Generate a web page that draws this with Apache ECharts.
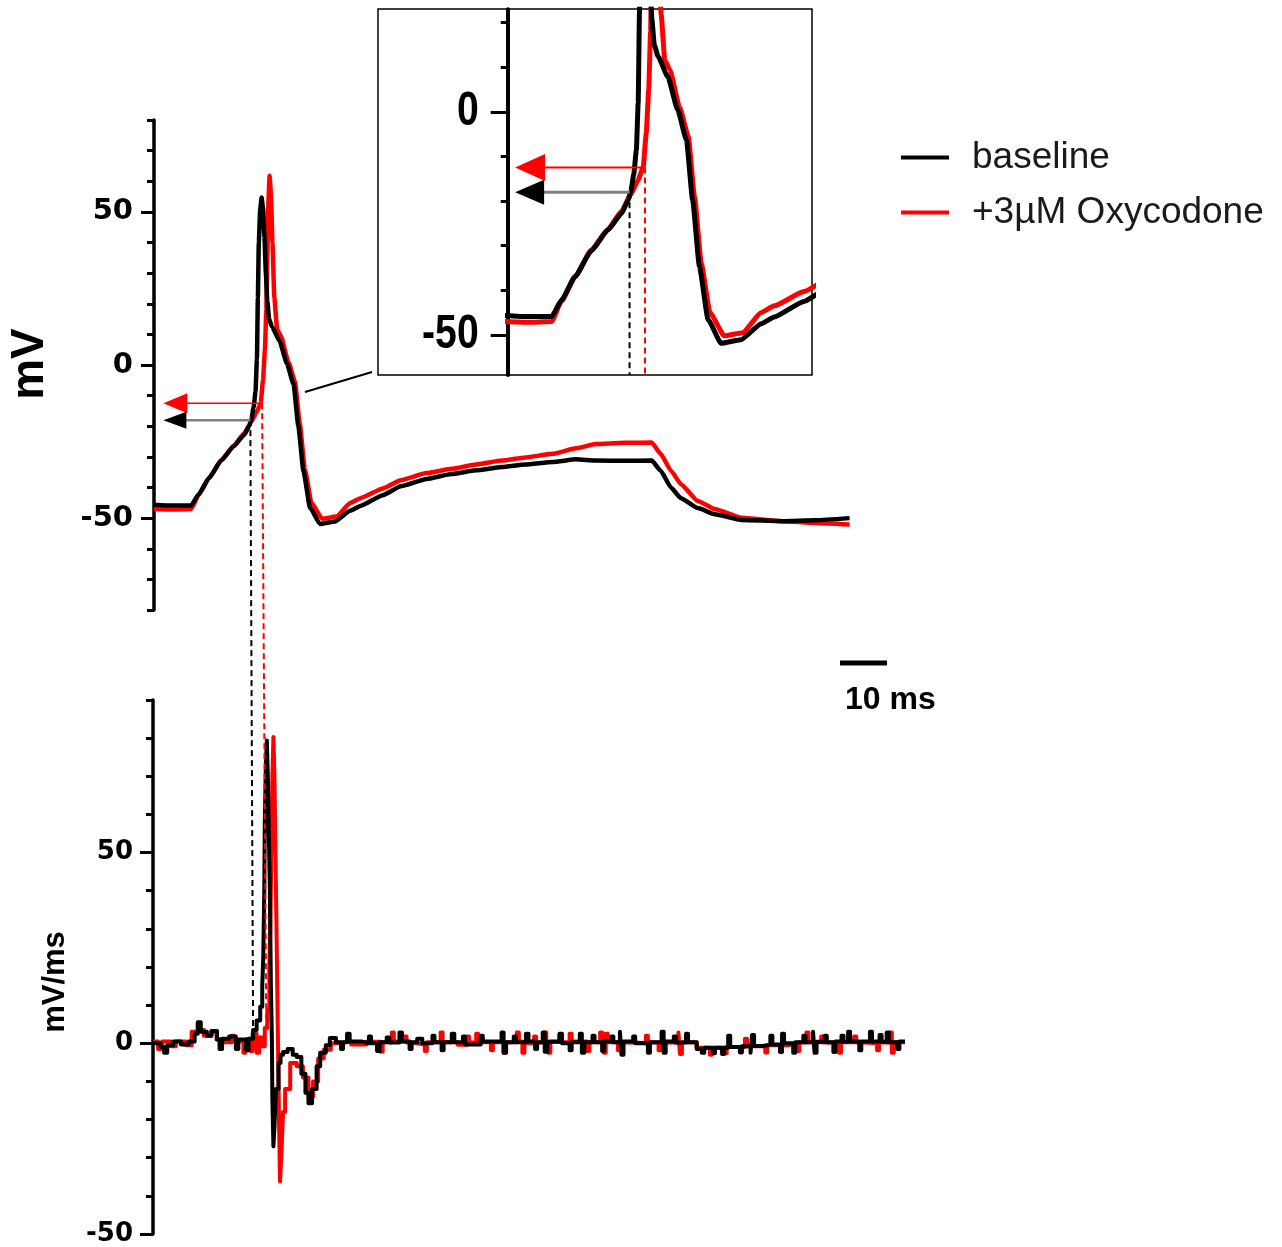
<!DOCTYPE html>
<html>
<head>
<meta charset="utf-8">
<script src="https://cdn.jsdelivr.net/npm/echarts@6/dist/echarts.min.js"></script>
<style>
  html, body { margin: 0; padding: 0; background: #fff; }
  #main { width: 1282px; height: 1247px; }
</style>
</head>
<body>
<div id="main"></div>
<script>
// membrane potential, [ms, mV]
var vBaseline = [
  [0, -45.6], [4, -45.9], [7.9, -45.9], [9.5, -42.2], [11.7, -36.9], [14.3, -31.2], [17, -26.5],
  [19.2, -22.8], [20.3, -19.8], [20.7, -17.9], [21.2, -13.8], [21.6, -8.6], [21.9, 2], [22.1, 22],
  [22.3, 40], [22.6, 51], [22.9, 54.7], [23.2, 51], [23.5, 42], [23.8, 30], [24.1, 21], [24.5, 15],
  [25.1, 12.5], [26.7, 7.8], [28.3, 0.4], [29.7, -6.3], [30.7, -19.8], [31.8, -34.7], [33.2, -46.6],
  [35.3, -51.9], [38.5, -51.1], [41.8, -47.5], [43.9, -46], [48.7, -42.5], [52.5, -39.6], [58, -37.2],
  [63.3, -35.6], [68.5, -34.4], [74, -33.3], [79, -32.5], [84.8, -31.7], [89.8, -30.8], [94, -31.2],
  [100, -31.3], [105.9, -31.2], [107.8, -34.5], [110, -40], [112.1, -43.5], [115.7, -46.7],
  [119.3, -48.7], [125, -50.6], [133.6, -51], [140.8, -50.7], [148, -50]
]
var vOxy = [
  [0, -47], [4, -47.2], [7.9, -47], [9.5, -42.5], [11.7, -37], [14.3, -31], [17, -26.3],
  [19.2, -22.3], [20.7, -18.5], [21.8, -15.5], [22.7, -12.5], [23.2, -4.8], [23.6, 5], [23.9, 18],
  [24.1, 35], [24.3, 52], [24.6, 61.8], [24.9, 55], [25.2, 40], [25.6, 22], [26.2, 11.6], [27, 9.5],
  [28.6, 1], [30, -5.5], [31, -19], [32.1, -34], [33.5, -45], [35.8, -50.2], [38.8, -49.5],
  [41.8, -45], [43.9, -43.5], [48.7, -40.3], [52.5, -37.6], [58, -35.3], [63.3, -33.9], [68.5, -32.5],
  [74, -31.2], [79, -30.2], [84.8, -29], [89.8, -27.2], [94, -25.8], [100, -25.4], [105.9, -25.3],
  [107.8, -29], [110, -34.5], [112.1, -38.9], [115.7, -44.4], [119.3, -47], [125, -49.9],
  [133.6, -51], [140.8, -51.6], [148, -52.1]
]

// dV/dt, [ms, mV/ms], each value holds until the next point
var dBaseline = [
  [0, 0], [1.5, -1], [2.2, -2.5], [2.8, -0.5], [4, 0.5], [5.5, -0.3], [7, 0.5], [8.2, 2.5], [8.8, 5.5],
  [9.4, 3], [10.6, 2], [11.5, 3.2], [12.6, 1], [13.1, -1.5], [13.6, 1.2], [15, 1.8], [16.3, -1.5],
  [16.8, 1], [18.3, -1.8], [18.8, 1.2], [19.7, 3.5], [20.4, 6], [21.1, 9.6], [21.5, 15], [21.7, 22.7],
  [21.9, 40], [22, 57.6], [22.2, 72], [22.4, 79.4], [22.6, 70], [22.8, 55], [23, 40], [23.2, 15],
  [23.4, 0.9], [23.5, -15], [23.7, -27], [23.9, -22], [24.2, -12], [24.7, -5.2], [25.1, -3],
  [25.6, -2.3], [26.5, -1.5], [27.5, -3], [28.3, -3.6], [29.2, -8], [30, -13], [30.6, -15.7],
  [31.3, -12], [32.2, -6], [32.9, -2.5], [34, -0.5], [34.8, 1.4], [36, 0.3], [37, -1.5], [37.4, 0.3],
  [38.2, 2.5], [38.7, 0.5], [41, 0], [42.5, 1.8], [42.9, 0], [44.1, -2], [44.6, 0.3], [46, 1.5],
  [46.5, 0.2], [48.5, 2.8], [49, 0.5], [50.5, -1.5], [50.9, 0.3], [52, 1.2], [53, 0], [55, 2], [55.4, 0.3],
  [56.8, -1.8], [57.2, 0.3], [58.8, 2.5], [59.3, 0.3], [61, 1.8], [61.4, -0.3], [63, -0.3], [64.5, 2],
  [64.9, 0.5], [66, 0.5], [68.6, 2.8], [69, -2.5], [69.5, 0.3], [71, 1.8], [71.4, 0.3], [73.4, 2.5],
  [73.9, 0.5], [75.2, -1.5], [75.6, 0.3], [76.7, 2.8], [77.1, -2.2], [77.6, 0.4], [80, 2.5], [80.5, 0],
  [82, -1.8], [82.4, 0.3], [84, 2.5], [84.4, -2.5], [84.9, 0.3], [86.5, 2], [86.9, 0.3], [88.4, -2],
  [88.8, 0.5], [90.2, 1.8], [90.6, 0.3], [91.9, 3], [92.2, -3], [92.6, 0.5], [94.5, 1.8], [94.9, 0],
  [97.4, -2.5], [97.8, 0.3], [100.1, 3], [100.5, -2.5], [100.9, 0.5], [102.5, 1.8], [102.9, 0.2],
  [104.9, 2.5], [105.3, 0.3], [107, -1.5], [108, -2.5], [108.5, -1.2], [110.2, -2.6], [110.6, -1.2],
  [112, -2.8], [112.4, -1.2], [113.2, 2], [113.6, -1], [115.5, -2.4], [115.9, -0.8], [117.6, -2.5],
  [117.9, 2.2], [118.3, -0.7], [120, -0.4], [121.5, 2], [121.9, -0.3], [123.4, -2.3], [123.8, 2.5],
  [124.2, 0], [126, -2.5], [126.4, 0.3], [128, 2], [128.4, 0.3], [129.9, 3], [130.2, -2.5], [130.6, 0.4],
  [132.2, 2], [132.6, 0.3], [133.9, -2.3], [134.3, 0.5], [135.5, 2], [135.9, 0.4], [136.8, 3],
  [137.2, 0.5], [139, -1.8], [139.4, 0.5], [141.1, 3], [141.5, 0.5], [143, 2.2], [143.4, 0.4],
  [144.4, 2.8], [144.8, 0.3], [146.5, -1.5], [146.9, 0.5], [148, 0.5]
]
var dOxy = [
  [0, 0.5], [1, -1.5], [1.8, 0.5], [3.5, -0.8], [4.5, 0.5], [6.5, -0.5], [7.6, 3], [8.5, 3.5], [10, 2],
  [11.5, 3], [12.5, 1], [14, 0.3], [15.5, 2], [16, 0.5], [17.8, -2.5], [18.2, 1], [19.2, -2], [19.6, 2.5],
  [20.4, -2.5], [20.9, 1.5], [21.5, -0.8], [22, 4], [22.5, 8.7], [22.9, 20], [23.1, 31], [23.3, 50],
  [23.5, 70], [23.7, 80.3], [23.9, 70], [24.1, 50], [24.3, 31], [24.5, 10], [24.6, 0], [24.8, -20],
  [25, -36.2], [25.3, -28], [25.6, -18], [26, -12], [27, -5.2], [28.3, -6], [29.5, -9], [30.6, -14],
  [31.5, -10], [32.5, -4], [33.6, -1.7], [35, 0], [36, 0.5], [39, -0.3], [42, 0.4], [44.8, -2.2],
  [45.2, 0.3], [47, 2.8], [47.4, 0.5], [49.5, 1.8], [49.9, 0.2], [51, -0.3], [53.5, -2], [53.9, 0.3],
  [56.6, 2.8], [57, 0.3], [60, -0.4], [61.8, 1.8], [62.2, 0.2], [63.6, 2.5], [64, 0.3], [66.5, -1.8],
  [66.9, 0.3], [69, -2.5], [69.4, 0.3], [71.6, 2.8], [72, 0.5], [72.7, -2.5], [73.1, 0], [75, 1.8],
  [75.4, 0.2], [77, 2.8], [77.4, 0.3], [77.8, -2.5], [78.2, 0.5], [80, 2.2], [80.5, 0.3], [82, 2.5],
  [82.4, 0.5], [85.5, -2], [85.9, 0.3], [88, 2.8], [88.4, 0.3], [88.7, -2.5], [89.1, 2.5], [89.5, 0.3],
  [91.5, -1.8], [91.9, 0.2], [95, 0], [97, 2], [97.4, 0.2], [99.5, -1.8], [99.9, 0.2], [103.4, 2.8],
  [103.7, -2.8], [104.1, 0.3], [107, -1.2], [109.6, -3], [110, -1.2], [112.5, -2.6], [112.9, -1],
  [114, -1], [116.5, 1.2], [116.9, -0.8], [118, -0.8], [120.5, -2.4], [120.9, -0.5], [122, -0.5],
  [125, 0], [126.8, -2], [127.2, 0.2], [128.6, 2.8], [129, 0.3], [131.5, 1.8], [131.9, 0.2],
  [135, -2.5], [135.4, 0.3], [138, 1.8], [138.4, 0.2], [140, 0], [142.5, -1.8], [142.9, 0.2],
  [145, 2.8], [145.4, -2.5], [145.8, 0.3], [148, 0.3]
]

var names = ['baseline', '+3µM Oxycodone']
var colors = ['#000000', '#ff0000']

// threshold: [baseline, oxycodone]
var thrTime = [20.5, 23.0]
var thrVolt = [-18, -12.5]
var thrTimeDvdt = [19.7, 22.3]
var thrDvdt = [4, 4]
var arrowTipTime = 2

var mainTicks = [-80, -70, -60, -50, -40, -30, -20, -10, 0, 10, 20, 30, 40, 50, 60, 70, 80]
var mainLabels = [-50, 0, 50]
var insetTicks = [-50, -40, -30, -20, -10, 0, 10, 20]
var insetLabels = [-50, 0]
var dvdtTicks = [-50, -40, -30, -20, -10, 0, 10, 20, 30, 40, 50, 60, 70, 80, 90]
var dvdtLabels = [-50, 0, 50]
var scaleBarMs = 10

var chart = echarts.init(document.getElementById('main'))

var labelFont = { fontFamily: 'DejaVu Sans', fontWeight: 'bold', color: '#000' }

function minorAxis (grid, min, max, ticks, lineW) {
  return {
    type: 'value', gridIndex: grid, position: 'left', min: min, max: max,
    axisLine: { show: true, lineStyle: { color: '#000', width: lineW } },
    axisTick: { show: true, customValues: ticks, length: 7, lineStyle: { color: '#000', width: 3 } },
    axisLabel: { show: false },
    splitLine: { show: false }
  }
}

function majorAxis (grid, min, max, labels, tickLen, font, margin) {
  return {
    type: 'value', gridIndex: grid, position: 'left', min: min, max: max,
    axisLine: { show: false },
    axisTick: { show: true, customValues: labels, length: tickLen, lineStyle: { color: '#000', width: 3 } },
    axisLabel: font ? Object.assign({ customValues: labels, margin: margin }, font) : { show: false },
    splitLine: { show: false }
  }
}

function trace (i, xi, yi, data, width, step) {
  return {
    name: names[i], type: 'line', xAxisIndex: xi, yAxisIndex: yi, data: data,
    symbol: 'none', step: step || false, clip: true,
    smooth: step ? false : 0.15, smoothMonotone: 'x',
    lineStyle: { color: colors[i], width: width, join: 'round' },
    itemStyle: { color: colors[i] },
    z: 3 - i
  }
}

chart.setOption({
  animation: false,
  backgroundColor: '#fff',
  grid: [
    { left: 154, top: 120, width: 695.6, height: 490 },
    { left: 507.7, top: 9.3, width: 304.3, height: 365.7 },
    { left: 153, top: 700, width: 752, height: 534 }
  ],
  xAxis: [
    { type: 'value', gridIndex: 0, min: 0, max: 148, show: false },
    { type: 'value', gridIndex: 1, min: 0.8, max: 50, show: false },
    { type: 'value', gridIndex: 2, min: 0, max: 148, show: false }
  ],
  yAxis: [
    minorAxis(0, -80, 80, mainTicks, 3.5),
    majorAxis(0, -80, 80, mainLabels, 13, Object.assign({ fontSize: 29 }, labelFont), 21),
    minorAxis(1, -59, 23, insetTicks, 4),
    majorAxis(1, -59, 23, insetLabels, 17, null, 0),
    minorAxis(2, -50, 90, dvdtTicks, 3.5),
    majorAxis(2, -50, 90, dvdtLabels, 13, Object.assign({ fontSize: 26 }, labelFont), 20)
  ],
  legend: {
    data: names, orient: 'vertical', left: 896, top: 134,
    icon: 'rect', itemWidth: 48, itemHeight: 4, itemGap: 18,
    textStyle: { fontFamily: 'Liberation Sans', fontSize: 37, color: '#1a1a1a', padding: [0, 0, 0, 18] }
  },
  series: [
    trace(1, 0, 0, vOxy, 4.5),
    trace(0, 0, 0, vBaseline, 4.5),
    trace(1, 1, 2, vOxy, 5),
    trace(0, 1, 2, vBaseline, 5),
    trace(1, 2, 4, dOxy, 4, 'end'),
    trace(0, 2, 4, dBaseline, 4, 'end')
  ]
})

function px (xi, yi, p) {
  return chart.convertToPixel({ xAxisIndex: xi, yAxisIndex: yi }, p)
}

var g = []

function arrow (xi, yi, i, headLen, halfW, lineW, lineColor) {
  var a = px(xi, yi, [thrTime[i], thrVolt[i]])
  var tip = px(xi, yi, [arrowTipTime, thrVolt[i]])
  g.push({ type: 'line', z: 20, shape: { x1: a[0], y1: a[1], x2: tip[0] + headLen - 2, y2: tip[1] },
    style: { stroke: lineColor, lineWidth: lineW } })
  g.push({ type: 'polygon', z: 20,
    shape: { points: [[tip[0], tip[1]], [tip[0] + headLen, tip[1] - halfW], [tip[0] + headLen, tip[1] + halfW]] },
    style: { fill: colors[i] } })
}

function dashed (a, b, i) {
  g.push({ type: 'line', z: 20, shape: { x1: a[0], y1: a[1], x2: b[0], y2: b[1] },
    style: { stroke: colors[i], lineWidth: 2, lineDash: [6, 4] } })
}

// inset frame and pointer
g.push({ type: 'rect', z: 1, shape: { x: 378, y: 9, width: 434, height: 366 },
  style: { fill: 'none', stroke: '#000', lineWidth: 1.5 } })
g.push({ type: 'line', z: 20, shape: { x1: 305, y1: 392, x2: 372, y2: 372 },
  style: { stroke: '#000', lineWidth: 2 } })

// inset tick labels, narrow bold
insetLabels.forEach(function (v) {
  var p = px(1, 2, [0.8, v])
  g.push({ type: 'text', x: p[0] - 29, y: p[1], scaleX: 0.8,
    style: { text: String(v), font: 'bold 49px "Liberation Sans", Arial', fill: '#000', textAlign: 'right', textVerticalAlign: 'middle' } })
})

for (var i = 0; i < 2; i++) {
  // main -> dV/dt
  dashed(px(0, 0, [thrTime[i], thrVolt[i]]), px(2, 4, [thrTimeDvdt[i], thrDvdt[i]]), i)
  // inset
  dashed(px(1, 2, [thrTime[i], thrVolt[i]]), px(1, 2, [thrTime[i], -59]), i)
}
arrow(0, 0, 1, 24, 10, 1.5, colors[1])
arrow(0, 0, 0, 23, 8.5, 2.5, '#808080')
arrow(1, 2, 1, 30, 13.5, 2, colors[1])
arrow(1, 2, 0, 29, 12.5, 3, '#808080')

// scale bar
var s0 = px(0, 0, [0, 0])
var s1 = px(0, 0, [scaleBarMs, 0])
g.push({ type: 'line', shape: { x1: 840, y1: 663, x2: 840 + (s1[0] - s0[0]), y2: 663 },
  style: { stroke: '#000', lineWidth: 5 } })
g.push({ type: 'text', x: 845, y: 700,
  style: { text: scaleBarMs + ' ms', font: 'bold 32px "Liberation Sans", Arial', fill: '#000', textVerticalAlign: 'middle' } })

// axis titles
g.push({ type: 'text', x: 30, y: 364, rotation: Math.PI / 2,
  style: { text: 'mV', font: 'bold 46px "Liberation Sans", Arial', fill: '#000', textAlign: 'center', textVerticalAlign: 'middle' } })
g.push({ type: 'text', x: 55, y: 982, rotation: Math.PI / 2,
  style: { text: 'mV/ms', font: 'bold 31px "Liberation Sans", Arial', fill: '#000', textAlign: 'center', textVerticalAlign: 'middle' } })

chart.setOption({ graphic: g })
</script>
</body>
</html>
